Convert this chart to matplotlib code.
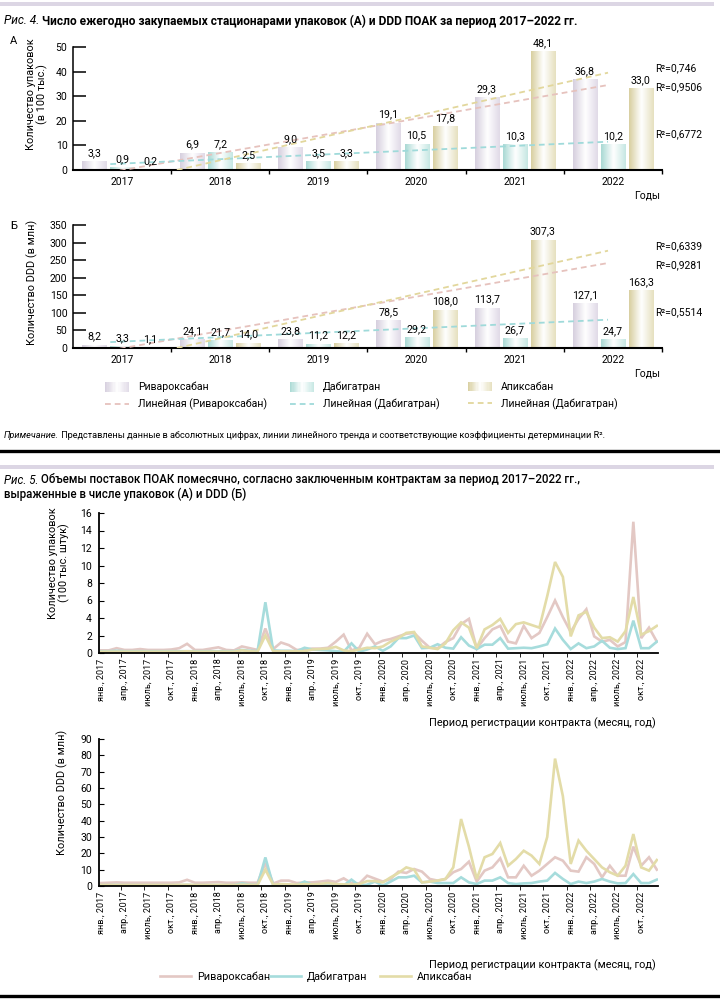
import matplotlib
matplotlib.use("Agg")
import matplotlib.pyplot as plt
import numpy as np
from matplotlib.colors import LinearSegmentedColormap
from matplotlib.legend_handler import HandlerBase
from matplotlib.lines import Line2D
from matplotlib.patches import Patch, Rectangle

# ---------------------------------------------------------------- data
YEARS = ['2017', '2018', '2019', '2020', '2021', '2022']
DRUGS = ['Ривароксабан', 'Дабигатран', 'Апиксабан']
TREND_LABELS = ['Линейная (Ривароксабан)', 'Линейная (Дабигатран)', 'Линейная (Дабигатран)']

PACKS_RIVA = [3.3, 6.9, 9.0, 19.1, 29.3, 36.8]
PACKS_DABI = [0.9, 7.2, 3.5, 10.5, 10.3, 10.2]
PACKS_APIX = [0.2, 2.5, 3.3, 17.8, 48.1, 33.0]
PACKS_R2 = ['0,9506', '0,6772', '0,746']

DDD_RIVA = [8.2, 24.1, 23.8, 78.5, 113.7, 127.1]
DDD_DABI = [3.3, 21.7, 11.2, 29.2, 26.7, 24.7]
DDD_APIX = [1.1, 14.0, 12.2, 108.0, 307.3, 163.3]
DDD_R2 = ['0,9281', '0,5514', '0,6339']

MONTH_NAMES = ['янв.', 'апр.', 'июль', 'окт.']
MONTH_YEARS = ['2017', '2018', '2019', '2020', '2021', '2022']

# monthly packages, 100 thousand (Jan 2017 .. Dec 2022)
RIVA_PACKS_M = [0.3, 0.3, 0.55, 0.35, 0.35, 0.45, 0.35, 0.35, 0.35, 0.4, 0.55, 1.05,
                0.35, 0.35, 0.5, 0.65, 0.35, 0.3, 0.75, 0.55, 0.35, 2.8, 0.45, 1.2,
                0.9, 0.35, 0.4, 0.5, 0.5, 0.6, 1.3, 2.1, 0.3, 0.6, 2.2, 1.0,
                1.4, 1.6, 1.9, 2.2, 2.3, 1.4, 0.6, 0.55, 1.25, 1.7, 3.3, 3.9,
                0.5, 1.7, 2.7, 3.1, 1.3, 1.1, 3.1, 1.7, 2.3, 4.1, 6.0, 4.1,
                2.4, 3.9, 5.0, 1.9, 1.3, 1.5, 0.75, 1.25, 15.0, 1.7, 2.9, 1.3]
DABI_PACKS_M = [0.2, 0.2, 0.25, 0.2, 0.2, 0.2, 0.2, 0.2, 0.2, 0.2, 0.2, 0.2,
                0.2, 0.2, 0.2, 0.2, 0.2, 0.2, 0.35, 0.25, 0.2, 5.8, 0.3, 0.25,
                0.25, 0.2, 0.6, 0.4, 0.35, 0.3, 0.2, 0.15, 1.1, 0.15, 0.4, 0.75,
                0.25, 0.75, 1.7, 1.7, 2.0, 0.55, 0.6, 1.0, 0.6, 0.5, 1.8, 0.85,
                0.45, 0.95, 0.95, 1.7, 0.5, 0.55, 0.6, 0.55, 0.75, 1.0, 2.8, 1.5,
                0.45, 1.1, 0.55, 0.75, 1.4, 0.6, 0.45, 0.55, 3.7, 0.55, 0.55, 1.3]
APIX_PACKS_M = [0.15, 0.15, 0.15, 0.15, 0.15, 0.15, 0.15, 0.15, 0.15, 0.15, 0.15, 0.2,
                0.15, 0.15, 0.15, 0.15, 0.15, 0.15, 0.3, 0.2, 0.15, 2.0, 0.2, 0.2,
                0.2, 0.2, 0.2, 0.4, 0.45, 0.5, 0.7, 0.3, 0.2, 0.4, 0.6, 0.55,
                0.75, 1.3, 1.7, 2.3, 2.4, 0.75, 0.6, 0.45, 1.1, 2.6, 3.5, 2.9,
                0.55, 2.7, 3.2, 3.9, 2.3, 3.3, 3.5, 3.2, 2.9, 6.5, 10.4, 8.7,
                1.9, 4.3, 4.7, 2.9, 1.7, 1.8, 1.3, 2.5, 6.4, 2.1, 2.5, 3.1]

# monthly DDD, millions
RIVA_DDD_M = [1.8, 2.0, 2.2, 2.0, 2.0, 2.0, 2.0, 2.0, 2.0, 2.0, 2.2, 3.8,
              2.0, 2.0, 2.2, 2.4, 2.0, 2.0, 2.2, 2.0, 2.0, 14.0, 1.5, 3.3,
              3.3, 1.8, 2.2, 2.2, 2.7, 3.3, 2.5, 4.7, 1.8, 1.5, 6.3, 4.5,
              2.7, 4.3, 8.8, 8.0, 10.4, 8.8, 4.3, 3.3, 4.3, 8.4, 10.4, 14.9,
              2.7, 9.4, 11.4, 16.9, 5.3, 5.3, 12.4, 6.3, 9.4, 13.5, 17.6, 15.5,
              9.4, 8.8, 17.6, 13.5, 5.3, 12.4, 6.3, 6.3, 24.1, 12.4, 17.6, 10.0]
DABI_DDD_M = [0.5, 0.5, 0.6, 0.5, 0.5, 0.5, 0.5, 0.5, 0.5, 0.5, 0.5, 0.6,
              0.5, 0.5, 0.5, 0.5, 0.5, 0.5, 1.6, 0.8, 0.5, 17.5, 0.3, 0.3,
              0.2, 0.5, 2.7, 0.8, 0.5, 0.3, 0.5, 0.3, 3.9, 0.3, 0.8, 2.7,
              0.2, 2.7, 5.3, 5.3, 6.3, 2.2, 2.7, 1.8, 1.8, 1.8, 5.3, 2.2,
              1.2, 3.3, 3.3, 5.3, 1.8, 1.2, 1.6, 1.8, 2.7, 3.3, 8.0, 4.3,
              1.2, 2.7, 1.8, 2.7, 4.3, 2.7, 1.6, 1.8, 7.3, 1.8, 1.8, 3.9]
APIX_DDD_M = [0.6, 0.6, 0.6, 0.6, 0.6, 0.6, 0.6, 0.6, 0.6, 0.6, 0.7, 0.8,
              0.6, 0.6, 0.6, 0.7, 0.6, 0.6, 0.8, 0.7, 0.6, 10.0, 0.8, 1.2,
              1.0, 0.8, 1.2, 1.0, 1.3, 1.8, 1.2, 1.0, 0.9, 1.2, 3.0, 3.0,
              2.2, 5.3, 8.0, 11.4, 10.0, 2.2, 2.7, 3.3, 4.3, 11.4, 41.0, 24.0,
              4.3, 17.6, 19.6, 26.3, 12.4, 16.5, 21.6, 18.6, 13.5, 30.0, 78.0, 55.0,
              13.5, 27.8, 21.6, 16.5, 11.4, 8.4, 6.3, 12.4, 31.8, 11.4, 9.4, 15.9]

# ---------------------------------------------------------------- style
plt.rcParams['font.family'] = ['Roboto', 'DejaVu Sans']
plt.rcParams['font.size'] = 7.5
plt.rcParams['axes.linewidth'] = 1.1

W, H = 720, 999
BAR_COLORS = [('#d6cfde', '#e0dae7'), ('#a9d9d4', '#c6e7e3'), ('#d8cfa0', '#e6e0bf')]
TREND_COLORS = ['#e6c2bd', '#9fdada', '#e2d79c']
LINE_COLORS = ['#e3c8c4', '#a6dcdc', '#e3dca8']
BAR_CMAPS = [LinearSegmentedColormap.from_list(f'g{k}', [(0, c1), (0.5, 'white'), (1, c2)])
             for k, (c1, c2) in enumerate(BAR_COLORS)]


def fx(x):
    return x / W


def fy(y):
    return 1 - y / H


class GradientHandler(HandlerBase):
    def create_artists(self, legend, orig_handle, xdescent, ydescent, width, height, fontsize, trans):
        n = 20
        return [Rectangle((-xdescent + width * k / n, -ydescent), width / n * 1.1, height,
                          facecolor=orig_handle.cmap((k + 0.5) / n), edgecolor='none', transform=trans)
                for k in range(n)]


def fmt(v):
    return f"{v:.1f}".replace('.', ',')


# ----------------------------------------------------------------------------------------------------
def plot_yearly(ax, series, ymax, step, r2, trend_scale):
    xs = np.arange(len(YEARS))
    width, shift = 0.245, 0.286
    for k, vals in enumerate(series):
        bars = ax.bar(xs + (k - 1) * shift, vals, width, color='none', zorder=2)
        grad = np.linspace(0, 1, 64).reshape(1, -1)
        for b, v in zip(bars, vals):
            x0 = b.get_x()
            ax.imshow(grad, cmap=BAR_CMAPS[k], aspect='auto', interpolation='bicubic',
                      extent=(x0, x0 + b.get_width(), 0, b.get_height()), zorder=2)
            ax.annotate(fmt(v), (x0 + b.get_width() / 2, v), xytext=(0, 2.5),
                        textcoords='offset points', ha='center', va='bottom', fontsize=7.7, zorder=4)

    # linear trends (fitted on the packages panel, the source reuses them in both panels)
    tx = np.array([-0.12, 4.95])
    offsets = [-1.0, 3.0, 2.0]
    for k, vals in enumerate([PACKS_RIVA, PACKS_DABI, PACKS_APIX]):
        slope, icpt = np.polyfit(np.arange(1, 7), vals, 1)
        ty = (slope * (tx + 1) + icpt) * trend_scale
        ax.plot(tx, ty, color=TREND_COLORS[k], lw=1.3, dashes=(3.2, 2.2), zorder=3)
        ax.text(0.988, ty[-1] + offsets[k] * trend_scale, f"R²={r2[k]}",
                transform=ax.get_yaxis_transform(), ha='left', va='center', fontsize=7.5)

    ax.set_xlim(-0.5, 5.5)
    ax.set_ylim(0, ymax)
    ax.set_yticks(np.arange(0, ymax + 1, step))
    ax.set_xticks(xs, YEARS)
    ax.set_xticks(np.arange(0.5, 6, 1), minor=True)
    ax.tick_params(axis='x', which='major', length=0, pad=5)
    ax.tick_params(axis='x', which='minor', length=3, direction='out', width=1)
    ax.tick_params(axis='y', direction='in', length=9, width=1.1, pad=4)
    for s in ['top', 'right']:
        ax.spines[s].set_visible(False)
    ax.spines['bottom'].set_linewidth(1.5)


def plot_monthly(ax, series, ymax, step):
    xs = np.arange(len(series[0]))
    for k, vals in enumerate(series):
        ax.plot(xs, vals, color=LINE_COLORS[k], lw=1.9, solid_joinstyle='miter')
    labels = [f"{m}, {y}" for y in MONTH_YEARS for m in MONTH_NAMES]
    ax.set_xticks(np.arange(0, 72, 3), labels, rotation=90, fontsize=6.5)
    ax.set_xticks(np.arange(2.5, 71, 3), minor=True)
    ax.tick_params(axis='x', which='major', length=0, pad=4)
    ax.tick_params(axis='x', which='minor', length=3, direction='out')
    ax.tick_params(axis='y', direction='in', length=3.5, pad=5)
    ax.set_xlim(-0.25, 71.15)
    ax.set_ylim(0, ymax)
    ax.set_yticks(np.arange(0, ymax + 1, step))
    for s in ['top', 'right']:
        ax.spines[s].set_visible(False)
    ax.spines['bottom'].set_linewidth(1.3)
    ax.spines['left'].set_linewidth(1.3)


# ----------------------------------------------------------------------------------------------------
if __name__ == '__main__':

    fig = plt.figure(figsize=(W / 100, H / 100), dpi=100)

    # decorations
    fig.add_artist(Rectangle((0, fy(6)), fx(714), 4 / H, transform=fig.transFigure, color='#dcd6e4', lw=0))
    fig.add_artist(Rectangle((0, fy(469)), fx(714), 4 / H, transform=fig.transFigure, color='#dcd6e4', lw=0))
    fig.add_artist(Line2D([0, 1], [fy(451), fy(451)], transform=fig.transFigure, color='black', lw=2.4))
    fig.add_artist(Line2D([0, 1], [fy(996), fy(996)], transform=fig.transFigure, color='black', lw=2.4))

    ax_a = fig.add_axes([fx(73), fy(170), fx(589), 123 / H])
    ax_b = fig.add_axes([fx(73), fy(348), fx(589), 123 / H])
    ax_m1 = fig.add_axes([fx(99), fy(653), fx(559), 140 / H])
    ax_m2 = fig.add_axes([fx(99), fy(886), fx(559), 147 / H])

    # titles
    t4 = fig.text(fx(4), fy(21), 'Рис. 4.', style='italic', fontsize=8.6, va='center')
    ax_a.annotate(' Число ежегодно закупаемых стационарами упаковок (А) и DDD ПОАК за период 2017–2022 гг.',
                  xy=(1, 0), xycoords=t4, ha='left', va='bottom', fontsize=8.6, weight='bold')
    t5 = fig.text(fx(4), fy(480), 'Рис. 5.', style='italic', fontsize=8.3, va='center')
    ax_a.annotate(' Объемы поставок ПОАК помесячно, согласно заключенным контрактам за период 2017–2022 гг.,',
                  xy=(1, 0), xycoords=t5, ha='left', va='bottom', fontsize=8.3, weight='medium')
    fig.text(fx(4), fy(494), 'выраженные в числе упаковок (А) и DDD (Б)', fontsize=8.3,
             weight='medium', va='center')
    tn = fig.text(fx(4), fy(435), 'Примечание.', style='italic', fontsize=6.6, va='center')
    ax_a.annotate(' Представлены данные в абсолютных цифрах, линии линейного тренда и соответствующие '
                  'коэффициенты детерминации R².', xy=(1, 0), xycoords=tn, ha='left', va='bottom', fontsize=6.6)

    # yearly charts
    plot_yearly(ax_a, [PACKS_RIVA, PACKS_DABI, PACKS_APIX], 50, 10, PACKS_R2, 1)
    plot_yearly(ax_b, [DDD_RIVA, DDD_DABI, DDD_APIX], 350, 50, DDD_R2, 7)
    fig.text(fx(14), fy(41), 'А', fontsize=8, ha='center', va='center')
    fig.text(fx(14), fy(226), 'Б', fontsize=8, ha='center', va='center')
    fig.text(fx(37), fy(94), 'Количество упаковок\n(в 100 тыс.)', rotation=90, ha='center', va='center',
             fontsize=7.8, linespacing=1.0)
    fig.text(fx(32), fy(282), 'Количество DDD (в млн)', rotation=90, ha='center', va='center', fontsize=7.8)
    fig.text(fx(660), fy(196), 'Годы', ha='right', va='center', fontsize=7.5)
    fig.text(fx(660), fy(374), 'Годы', ha='right', va='center', fontsize=7.5)

    # legend of yearly charts
    hmap = {Patch: GradientHandler()}
    for k, x in enumerate([105, 290, 468]):
        patch = Patch()
        patch.cmap = BAR_CMAPS[k]
        line = Line2D([], [], color=TREND_COLORS[k], lw=1.3, dashes=(3.2, 2.2))
        fig.legend([patch, line], [DRUGS[k], TREND_LABELS[k]], loc='upper left',
                   bbox_to_anchor=(fx(x), fy(382)), frameon=False, fontsize=7.6, handlelength=2.3,
                   handleheight=1.0, handletextpad=0.8, labelspacing=0.6, borderpad=0, borderaxespad=0,
                   handler_map=hmap)

    # monthly charts
    plot_monthly(ax_m1, [RIVA_PACKS_M, DABI_PACKS_M, APIX_PACKS_M], 16, 2)
    plot_monthly(ax_m2, [RIVA_DDD_M, DABI_DDD_M, APIX_DDD_M], 90, 10)
    fig.text(fx(59), fy(563), 'Количество упаковок\n(100 тыс. штук)', rotation=90, ha='center', va='center',
             fontsize=7.8, linespacing=1.0)
    fig.text(fx(62), fy(792), 'Количество DDD (в млн)', rotation=90, ha='center', va='center', fontsize=7.8)
    fig.text(fx(656), fy(723), 'Период регистрации контракта (месяц, год)', ha='right', va='center',
             fontsize=7.8)
    fig.text(fx(656), fy(965), 'Период регистрации контракта (месяц, год)', ha='right', va='center',
             fontsize=7.8)
    for k, x in enumerate([160, 270, 380]):
        fig.legend([Line2D([], [], color=LINE_COLORS[k], lw=1.9)], [DRUGS[k]], loc='center left',
                   bbox_to_anchor=(fx(x), fy(977)), frameon=False, fontsize=7.8, handlelength=2.9,
                   handletextpad=0.5, borderpad=0, borderaxespad=0)

    fig.savefig('out.png', dpi=100)
